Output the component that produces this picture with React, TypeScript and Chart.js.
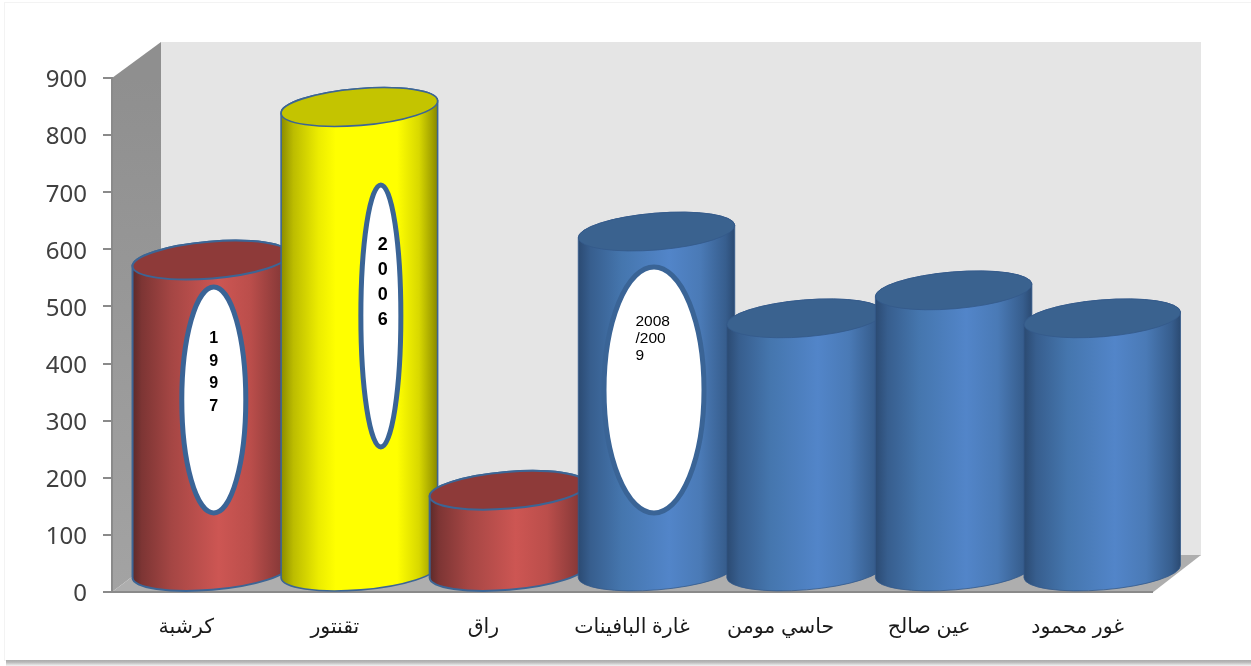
import React, { useEffect, useRef } from "react";
import { Chart, registerables } from "chart.js";

Chart.register(...registerables);

const categories = ["كرشبة", "تقنتور", "راق", "غارة البافينات", "حاسي مومن", "عين صالح", "غور محمود"];
const values = [547, 815, 144, 597, 445, 494, 445];
const yTicks = [0, 100, 200, 300, 400, 500, 600, 700, 800, 900];
const seriesKinds = ["red", "yellow", "red", "blue", "blue", "blue", "blue"];
const yearNotes = [
  { bar: 0, lines: ["1", "9", "9", "7"] },
  { bar: 1, lines: ["2", "0", "0", "6"] },
  { bar: 3, lines: ["2008", "/200", "9"] },
];

const DEPTH_X = 49;
const DEPTH_Y = 37;
const BAR_DX = 24.5;
const BAR_DY = 19.5;
const ELLIPSE_B = 18.4;
const TILT = (-4.7 * Math.PI) / 180;

const palettes: Record<string, { stops: [number, string][]; top: string; line: string; lw: number }> = {
  red: {
    stops: [[0, "#5c2a29"], [0.06, "#7d3534"], [0.25, "#a54644"], [0.55, "#cd5653"], [0.75, "#bb4e4b"], [0.94, "#8a3a39"], [1, "#672e2d"]],
    top: "#8e3a39",
    line: "#3c6595",
    lw: 2,
  },
  yellow: {
    stops: [[0, "#8a8a00"], [0.08, "#bcbc00"], [0.24, "#ecec00"], [0.35, "#ffff00"], [0.74, "#ffff00"], [0.88, "#d8d800"], [0.96, "#a4a400"], [1, "#858500"]],
    top: "#c4c400",
    line: "#3c6595",
    lw: 1.6,
  },
  blue: {
    stops: [[0, "#2b4a72"], [0.08, "#375e8e"], [0.28, "#4576ae"], [0.58, "#5285c9"], [0.78, "#4a7ab6"], [0.94, "#375e8e"], [1, "#2b4a72"]],
    top: "#3a628f",
    line: "#33598a",
    lw: 0.8,
  },
};

const sceneryPlugin = {
  id: "scenery",
  beforeDraw(chart: any) {
    const { ctx, chartArea: a, width, height } = chart;
    ctx.save();
    ctx.fillStyle = "#ffffff";
    ctx.fillRect(0, 0, width, height);
    // picture frame
    ctx.strokeStyle = "#f3f3f3";
    ctx.lineWidth = 1;
    ctx.strokeRect(4.5, 2.5, width, height - 8);
    const g = ctx.createLinearGradient(0, height - 7, 0, height);
    g.addColorStop(0, "#a6a6a6");
    g.addColorStop(0.45, "#b8b8b8");
    g.addColorStop(1, "#f4f4f4");
    ctx.fillStyle = g;
    ctx.fillRect(6, height - 6, width, 6);

    const l = a.left, r = a.right, t = a.top, b = a.bottom;
    // back wall
    ctx.fillStyle = "#e5e5e5";
    ctx.fillRect(l + DEPTH_X, t - DEPTH_Y + 1, r - l, b - t);
    // side wall
    const sg = ctx.createLinearGradient(0, t, 0, b);
    sg.addColorStop(0, "#8f8f8f");
    sg.addColorStop(1, "#a3a3a3");
    ctx.fillStyle = sg;
    ctx.beginPath();
    ctx.moveTo(l, t);
    ctx.lineTo(l + DEPTH_X, t - DEPTH_Y + 1);
    ctx.lineTo(l + DEPTH_X, b - DEPTH_Y);
    ctx.lineTo(l, b);
    ctx.closePath();
    ctx.fill();
    // floor
    ctx.fillStyle = "#aeaeae";
    ctx.beginPath();
    ctx.moveTo(l, b);
    ctx.lineTo(l + DEPTH_X, b - DEPTH_Y);
    ctx.lineTo(r + DEPTH_X, b - DEPTH_Y);
    ctx.lineTo(r, b + 1);
    ctx.closePath();
    ctx.fill();
    ctx.restore();
  },
};

const cylinderPlugin = {
  id: "cylinders",
  afterDatasetsDraw(chart: any) {
    const { ctx } = chart;
    const bars = chart.getDatasetMeta(0).data;
    bars.forEach((bar: any, i: number) => {
      const pal = palettes[seriesKinds[i]];
      const cx = bar.x + BAR_DX;
      const ra = bar.width / 2;
      const topY = bar.y - BAR_DY;
      const botY = bar.base - BAR_DY;
      ctx.save();
      const grad = ctx.createLinearGradient(cx - ra, 0, cx + ra, 0);
      pal.stops.forEach(([p, c]) => grad.addColorStop(p, c));
      ctx.beginPath();
      ctx.ellipse(cx, botY, ra, ELLIPSE_B, TILT, Math.PI, 0, true);
      ctx.ellipse(cx, topY, ra, ELLIPSE_B, TILT, 0, Math.PI, true);
      ctx.closePath();
      ctx.fillStyle = grad;
      ctx.fill();
      ctx.strokeStyle = pal.line;
      ctx.lineWidth = pal.lw;
      ctx.stroke();
      ctx.beginPath();
      ctx.ellipse(cx, topY, ra, ELLIPSE_B, TILT, 0, Math.PI * 2);
      ctx.fillStyle = pal.top;
      ctx.fill();
      ctx.stroke();
      ctx.restore();
    });
    // year callouts, placed relative to their bars
    const shapes: Record<number, { dx: number; cy: number; rx: number; ry: number; font: string; tx: number; ty: number; lh: number; align: CanvasTextAlign }> = {
      0: { dx: 3, cy: 400, rx: 32, ry: 113, font: "bold 16px 'Liberation Sans'", tx: 3, ty: 339, lh: 22.5, align: "center" },
      1: { dx: 21.5, cy: 316, rx: 20, ry: 131, font: "bold 18px 'Liberation Sans'", tx: 23.5, ty: 245, lh: 25, align: "center" },
      3: { dx: -2.5, cy: 390, rx: 50, ry: 123, font: "15.5px 'Liberation Sans'", tx: -21, ty: 322, lh: 17, align: "left" },
    };
    yearNotes.forEach((n) => {
      const s = shapes[n.bar];
      const bar = bars[n.bar];
      const cx = bar.x + BAR_DX;
      ctx.save();
      ctx.beginPath();
      ctx.ellipse(cx + s.dx, s.cy, s.rx, s.ry, 0, 0, Math.PI * 2);
      ctx.fillStyle = "#ffffff";
      ctx.fill();
      ctx.strokeStyle = "#3a6496";
      ctx.lineWidth = 5;
      ctx.stroke();
      ctx.fillStyle = "#000000";
      ctx.font = s.font;
      ctx.textAlign = s.align;
      ctx.textBaseline = "middle";
      n.lines.forEach((line, k) => ctx.fillText(line, cx + s.tx, s.ty + k * s.lh));
      ctx.restore();
    });
  },
};

export default function App() {
  const ref = useRef<HTMLCanvasElement>(null);
  useEffect(() => {
    document.body.style.margin = "0";
    document.body.style.background = "#ffffff";
    const chart = new Chart(ref.current as HTMLCanvasElement, {
      type: "bar",
      data: {
        labels: categories,
        datasets: [
          {
            data: values,
            backgroundColor: "rgba(0,0,0,0)",
            borderWidth: 0,
            barPercentage: 1.057,
            categoryPercentage: 1,
          },
        ],
      },
      options: {
        responsive: false,
        animation: false,
        devicePixelRatio: 1,
        layout: { padding: { top: 78, right: 99, left: 0, bottom: 0 } },
        plugins: { legend: { display: false }, tooltip: { enabled: false } },
        scales: {
          x: {
            afterFit: (s: any) => { s.height = 74; },
            grid: { display: false, drawTicks: false },
            border: { display: true, color: "#8a8a8a", width: 2 },
            ticks: {
              color: "#1a1a1a",
              padding: 23,
              maxRotation: 0,
              autoSkip: false,
              font: { family: "'Liberation Sans', 'DejaVu Sans', sans-serif", size: 20.5 },
            },
          },
          y: {
            min: 0,
            max: 900,
            afterFit: (s: any) => {
              s.width = 112;
              if (!s.__nudged) {
                s.__nudged = true;
                const compute = s._computeLabelItems.bind(s);
                s._computeLabelItems = (area: any) =>
                  compute(area).map((item: any) => ({ ...item, textOffset: item.textOffset + 2.5 }));
              }
            },
            afterBuildTicks: (s: any) => { s.ticks = yTicks.map((v) => ({ value: v })); },
            grid: { drawOnChartArea: false, drawTicks: true, tickLength: 9, color: "#8a8a8a", lineWidth: 2 },
            border: { display: true, color: "#8a8a8a", width: 2 },
            ticks: {
              color: "#404040",
              padding: 16,
              font: { family: "'Noto Sans', sans-serif", size: 24 },
            },
          },
        },
      },
      plugins: [sceneryPlugin, cylinderPlugin],
    } as any);
    return () => chart.destroy();
  }, []);
  return <canvas ref={ref} width={1251} height={666} style={{ display: "block" }} />;
}
